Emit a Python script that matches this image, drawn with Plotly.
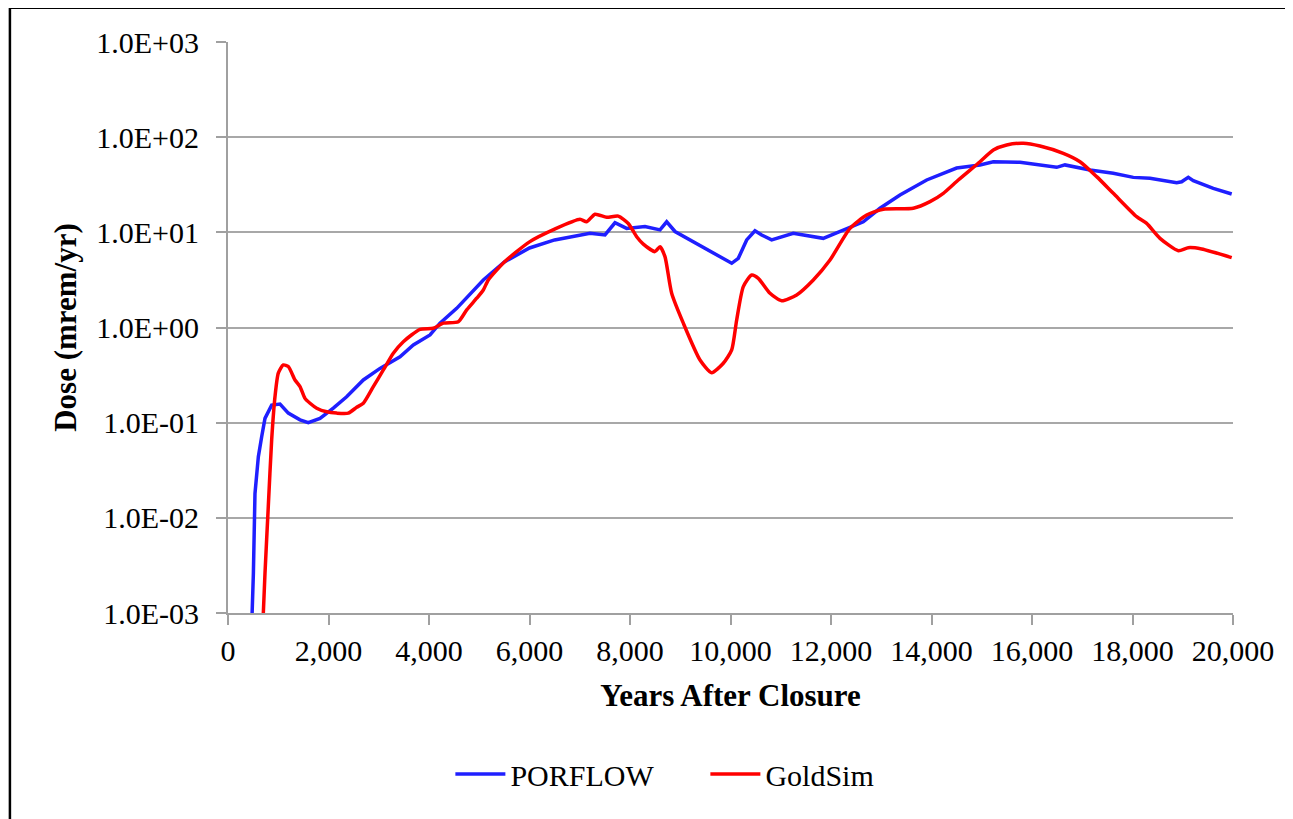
import plotly.graph_objects as go

# PORFLOW dose
porflow_years = [480, 505, 537, 604, 670, 736, 869, 1035, 1200, 1433, 1598, 1831, 2096,
                 2361, 2693, 3025, 3423, 3688, 4020, 4219, 4551, 4882, 5081, 5500, 6000,
                 6500, 7005, 7204, 7502, 7701, 7933, 8298, 8597, 8730, 8896, 9260, 9658,
                 10024, 10155, 10322, 10487, 10620, 10819, 11249, 11846, 12311, 12643,
                 12975, 13373, 13904, 14500, 14965, 15230, 15761, 16491, 16656, 17154,
                 17618, 18016, 18348, 18879, 18978, 19110, 19210, 19608, 19974]
porflow_dose = [0.001, 0.0026, 0.018, 0.044, 0.071, 0.111, 0.153, 0.157, 0.126, 0.107,
                0.100, 0.111, 0.142, 0.187, 0.281, 0.372, 0.493, 0.655, 0.834, 1.11,
                1.59, 2.48, 3.16, 4.88, 6.85, 8.32, 9.38, 9.77, 9.38, 12.6, 11.0, 11.5,
                10.6, 12.9, 10.2, 7.98, 6.03, 4.73, 5.33, 8.32, 10.4, 9.38, 8.32, 9.77,
                8.65, 11.0, 12.9, 17.9, 24.7, 35.5, 47.4, 51.1, 55.2, 54.5, 48.2, 51.1,
                45.2, 41.7, 37.8, 37.0, 33.3, 34.0, 37.8, 34.9, 29.0, 25.3]

# GoldSim dose
goldsim_years = [703, 736, 802, 869, 935, 1001, 1100, 1200, 1333, 1433, 1532, 1632, 1765,
                 1964, 2163, 2394, 2561, 2693, 2892, 3091, 3290, 3489, 3821, 4086, 4285,
                 4583, 4750, 4949, 5081, 5180, 5500, 6000, 6500, 7005, 7138, 7303, 7536,
                 7767, 7966, 8133, 8265, 8497, 8597, 8696, 8829, 9061, 9393, 9625, 9857,
                 10024, 10123, 10255, 10422, 10553, 10786, 11018, 11317, 11648, 11980,
                 12378, 12710, 13041, 13638, 13970, 14235, 14533, 14965, 15230, 15496,
                 15827, 16159, 16623, 16955, 17287, 17618, 18083, 18282, 18547, 18912,
                 19110, 19376, 19974]
goldsim_dose = [0.001, 0.0026, 0.0132, 0.066, 0.187, 0.331, 0.404, 0.389, 0.281, 0.239,
                0.180, 0.160, 0.142, 0.130, 0.126, 0.126, 0.145, 0.160, 0.239, 0.358,
                0.537, 0.710, 0.957, 0.982, 1.11, 1.15, 1.53, 2.03, 2.48, 3.16, 4.88,
                7.94, 10.8, 13.7, 12.9, 15.5, 14.4, 14.8, 12.4, 9.0, 7.53, 6.27, 7.06,
                5.55, 2.29, 1.11, 0.456, 0.335, 0.421, 0.581, 1.20, 2.69, 3.56, 3.29,
                2.29, 1.91, 2.20, 3.16, 5.12, 11.0, 15.2, 17.5, 17.9, 21.0, 25.7, 35.5,
                55.2, 73.3, 82.8, 86.3, 80.7, 67.6, 55.2, 38.5, 25.7, 14.6, 12.4, 8.65,
                6.41, 6.90, 6.68, 5.42]

y_tickvals = [1e-3, 1e-2, 1e-1, 1, 10, 100, 1000]
y_ticktext = ["1.0E-03", "1.0E-02", "1.0E-01", "1.0E+00", "1.0E+01", "1.0E+02", "1.0E+03"]
x_tickvals = list(range(0, 20001, 2000))

FONT = "Liberation Serif"

fig = go.Figure()
fig.add_trace(go.Scatter(x=porflow_years, y=porflow_dose, mode="lines", name="PORFLOW",
                         line=dict(color="#1f1fff", width=3.5)))
fig.add_trace(go.Scatter(x=goldsim_years, y=goldsim_dose, mode="lines", name="GoldSim",
                         line=dict(color="#ff0000", width=3.5, shape="spline", smoothing=0.6)))

# the page adds an 8px body margin, so margins are shifted up/left by 8
fig.update_layout(
    width=1293, height=819,
    margin=dict(l=220, r=68, t=34, b=214),
    paper_bgcolor="white", plot_bgcolor="white",
    font=dict(family=FONT, size=30, color="black"),
    legend=dict(orientation="h", x=0.475, y=-0.282, xanchor="center", yanchor="middle",
                font=dict(size=30), itemwidth=50, entrywidth=190),
    xaxis=dict(
        range=[0, 20000], tickvals=x_tickvals, tickformat=",d",
        showgrid=False, showline=True, linecolor="#a0a0a0", linewidth=2,
        ticks="outside", ticklen=10, tickcolor="#a0a0a0", tickwidth=2,
        title=dict(text="<b>Years After Closure</b>", font=dict(size=31), standoff=18),
        zeroline=False,
    ),
    yaxis=dict(
        type="log", range=[-3, 3], tickvals=y_tickvals, ticktext=y_ticktext,
        showgrid=True, gridcolor="#a8a8a8", gridwidth=2,
        showline=True, linecolor="#a0a0a0", linewidth=2,
        ticks="outside", ticklen=10, tickcolor="#a0a0a0", tickwidth=2,
        ticklabelstandoff=11,
        title=dict(text="<b>Dose (mrem/yr)</b>", font=dict(size=31), standoff=10),
        zeroline=False,
    ),
    shapes=[
        dict(type="line", xref="paper", yref="paper", x0=-0.217, x1=1.2, y0=1.06, y1=1.06,
             line=dict(color="black", width=2.5)),
        dict(type="line", xref="paper", yref="paper", x0=-0.217, x1=-0.217, y0=1.06, y1=-0.45,
             line=dict(color="black", width=2.5)),
    ],
)

fig.write_html("out.html")
